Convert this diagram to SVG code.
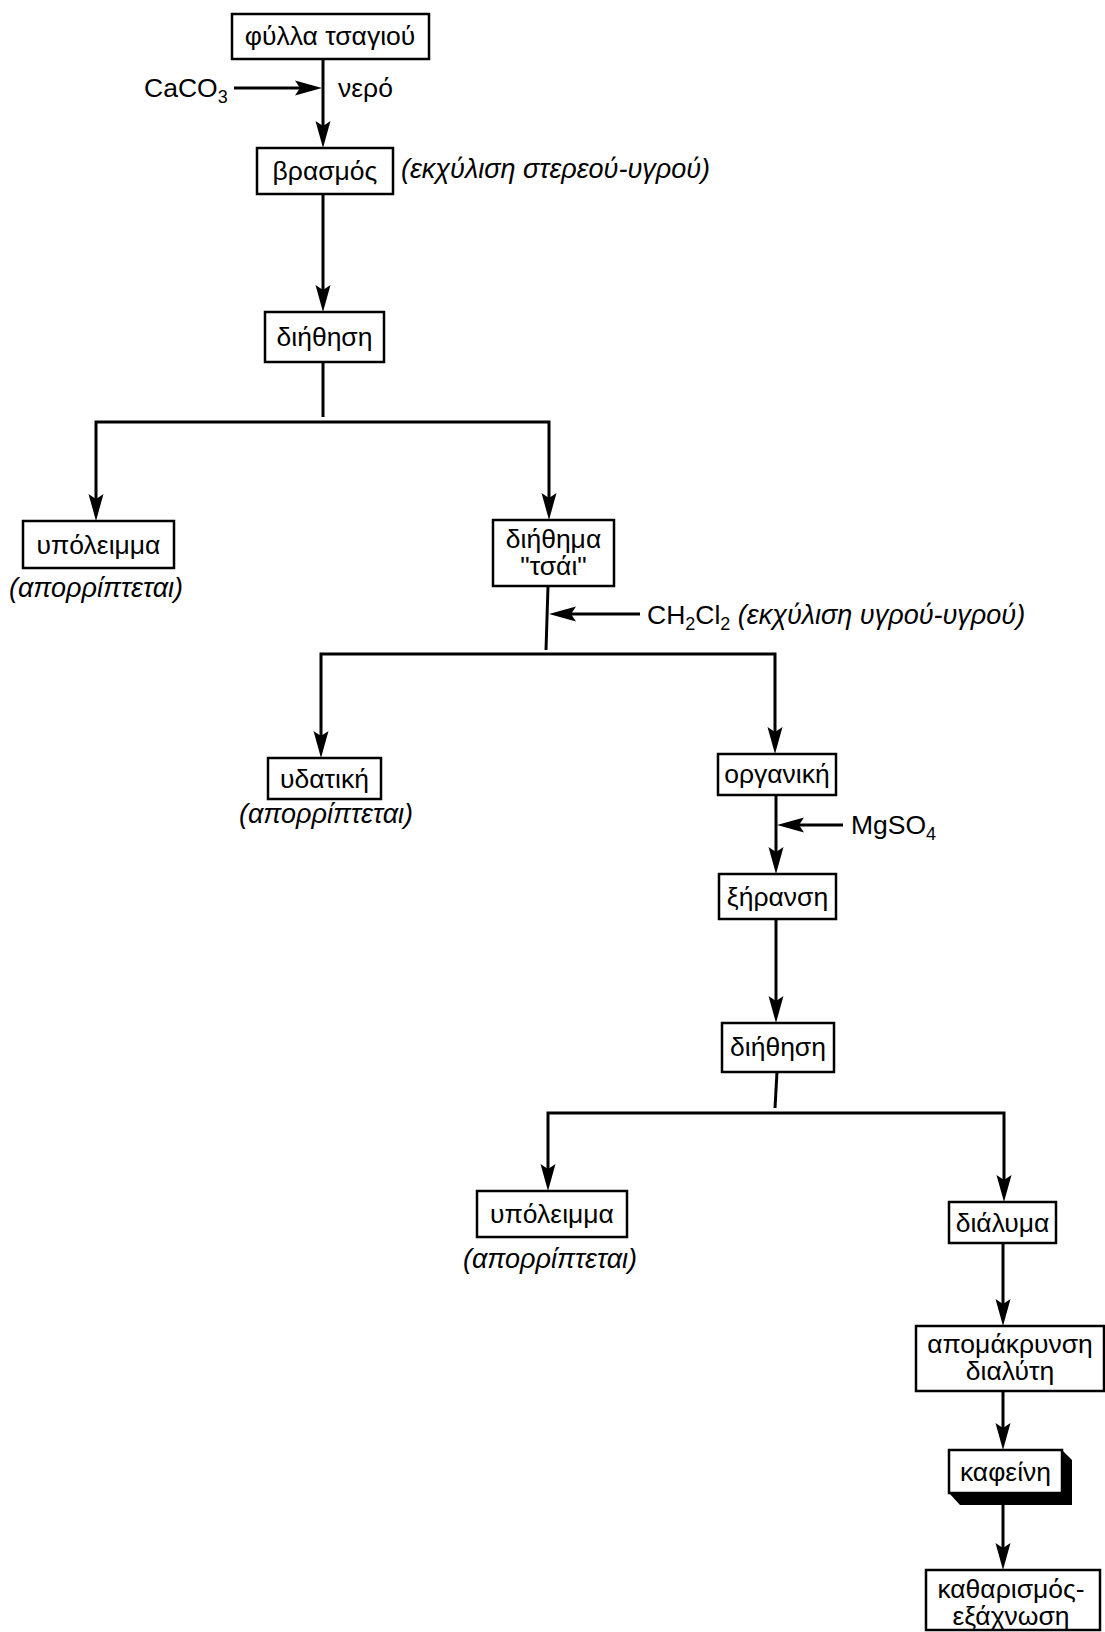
<svg xmlns="http://www.w3.org/2000/svg" width="1105" height="1632" viewBox="0 0 1105 1632">
<style>
text{font-family:"Liberation Sans",Arial,sans-serif;font-size:26.5px;fill:#000}
.c{text-anchor:middle}
.i{font-style:italic;font-size:27px}
.box{fill:#fff;stroke:#000;stroke-width:2.5}
.ln{fill:none;stroke:#000;stroke-width:3}
.sub{font-size:18px}
</style>
<defs>
<marker id="ah" markerUnits="userSpaceOnUse" markerWidth="27" markerHeight="16" viewBox="0 0 27 16" refX="19" refY="8" orient="auto">
<path d="M0,0.5 L27,8 L0,15.5 L5,8 Z" fill="#000"/>
</marker>
</defs>
<rect width="1105" height="1632" fill="#fff"/>
<g id="connectors">
<path class="ln" d="M323,59 V140" marker-end="url(#ah)"/>
<path class="ln" d="M234,88 H314" marker-end="url(#ah)"/>
<path class="ln" d="M323,194 V304" marker-end="url(#ah)"/>
<path class="ln" d="M323,362 V417"/>
<path class="ln" d="M323,422 H96 V513" marker-end="url(#ah)"/>
<path class="ln" d="M323,422 H549 V512" marker-end="url(#ah)"/>
<path class="ln" d="M548,586 L546,650"/>
<path class="ln" d="M640,614 H557" marker-end="url(#ah)"/>
<path class="ln" d="M546,654 H321 V750" marker-end="url(#ah)"/>
<path class="ln" d="M546,654 H775 V746" marker-end="url(#ah)"/>
<path class="ln" d="M776,795 V866" marker-end="url(#ah)"/>
<path class="ln" d="M843,825 H785" marker-end="url(#ah)"/>
<path class="ln" d="M776,919 V1015" marker-end="url(#ah)"/>
<path class="ln" d="M777,1072 L775,1108"/>
<path class="ln" d="M775,1113 H548 V1183" marker-end="url(#ah)"/>
<path class="ln" d="M775,1113 H1004 V1194" marker-end="url(#ah)"/>
<path class="ln" d="M1003,1243 V1318" marker-end="url(#ah)"/>
<path class="ln" d="M1003,1391 V1442" marker-end="url(#ah)"/>
<path class="ln" d="M1003,1505 V1562" marker-end="url(#ah)"/>
</g>
<g id="labels">
<text x="144" y="97">CaCO<tspan class="sub" dy="6">3</tspan></text>
<text x="338" y="97">νερό</text>
<text x="401" y="178" class="i">(εκχύλιση στερεού-υγρού)</text>
<text x="647" y="624">CH<tspan class="sub" dy="6">2</tspan><tspan dy="-6">Cl</tspan><tspan class="sub" dy="6">2</tspan><tspan dy="-6" class="i"> (εκχύλιση υγρού-υγρού)</tspan></text>
<text x="851" y="834">MgSO<tspan class="sub" dy="6">4</tspan></text>
</g>
<g id="n1"><rect class="box" x="232" y="14" width="197" height="45"/><text class="c" x="330" y="45">φύλλα τσαγιού</text></g>
<g id="n2"><rect class="box" x="257" y="148" width="136" height="46"/><text class="c" x="325" y="180">βρασμός</text></g>
<g id="n3"><rect class="box" x="265" y="312" width="119" height="50"/><text class="c" x="324.5" y="346">διήθηση</text></g>
<g id="n4"><rect class="box" x="23" y="521" width="151" height="47"/><text class="c" x="98.5" y="554">υπόλειμμα</text><text class="c i" x="96" y="597">(απορρίπτεται)</text></g>
<g id="n5"><rect class="box" x="493" y="520" width="121" height="66"/><text class="c" x="553.5" y="548">διήθημα</text><text class="c" x="553.5" y="575">"τσάι"</text></g>
<g id="n6"><rect class="box" x="268" y="758" width="113" height="41"/><text class="c" x="324.5" y="788">υδατική</text><text class="c i" x="326" y="823">(απορρίπτεται)</text></g>
<g id="n7"><rect class="box" x="718" y="754" width="118" height="41"/><text class="c" x="777" y="783">οργανική</text></g>
<g id="n8"><rect class="box" x="719" y="874" width="117" height="45"/><text class="c" x="777.5" y="906">ξήρανση</text></g>
<g id="n9"><rect class="box" x="722" y="1023" width="112" height="49"/><text class="c" x="778" y="1056">διήθηση</text></g>
<g id="n10"><rect class="box" x="477" y="1191" width="150" height="46"/><text class="c" x="552" y="1223">υπόλειμμα</text><text class="c i" x="550" y="1268">(απορρίπτεται)</text></g>
<g id="n11"><rect class="box" x="949" y="1202" width="107" height="41"/><text class="c" x="1002.5" y="1232">διάλυμα</text></g>
<g id="n12"><rect class="box" x="916" y="1326" width="188" height="65"/><text class="c" x="1010" y="1353">απομάκρυνση</text><text class="c" x="1010" y="1380">διαλύτη</text></g>
<g id="n13"><polygon points="1062,1450 1072,1460 1072,1505 960,1505 949,1493 1062,1493" fill="#000"/><rect class="box" x="949" y="1450" width="113" height="43" stroke-width="2"/><text class="c" x="1005.5" y="1481">καφείνη</text></g>
<g id="n14"><rect class="box" x="926" y="1570" width="174" height="60"/><text class="c" x="1011" y="1598">καθαρισμός-</text><text class="c" x="1011" y="1625">εξάχνωση</text></g>
</svg>
